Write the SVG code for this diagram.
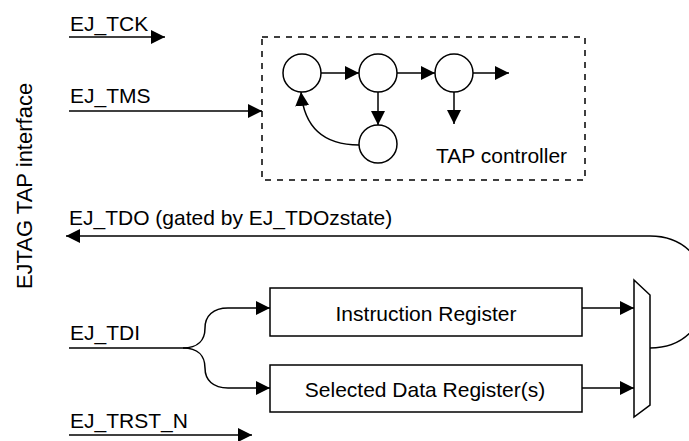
<svg xmlns="http://www.w3.org/2000/svg" width="689" height="441" viewBox="0 0 689 441">
<style>
.ln{fill:none;stroke:#000;stroke-width:1.5}
.bx{fill:#fff;stroke:#000;stroke-width:1.5}
.t{font-family:"Liberation Sans",Arial,sans-serif;font-size:21px;fill:#000}
.c{text-anchor:middle}
</style>
<defs>
<marker id="ah" markerUnits="userSpaceOnUse" markerWidth="14" markerHeight="14" refX="14" refY="7" orient="auto" viewBox="0 0 14 14">
<path d="M0,0 L14,7 L0,14 z" fill="#000"/>
</marker>
</defs>
<rect x="0" y="0" width="689" height="441" fill="#fff"/>
<text class="t c" transform="translate(32,186) rotate(-90)" style="font-size:22px">EJTAG TAP interface</text>
<g id="tap_controller">
<rect x="262" y="37" width="323" height="143" fill="none" stroke="#000" stroke-width="1.5" stroke-dasharray="6,6"/>
<text class="t" x="436" y="163">TAP controller</text>
</g>
<g id="state1"><circle class="bx" cx="302" cy="73" r="19"/></g>
<g id="state2"><circle class="bx" cx="378" cy="73" r="19"/></g>
<g id="state3"><circle class="bx" cx="454" cy="73" r="19"/></g>
<g id="state4"><circle class="bx" cx="378" cy="144" r="19"/></g>
<g id="instruction_register">
<rect class="bx" x="270" y="288" width="312" height="48"/>
<text class="t c" x="426" y="321">Instruction Register</text>
</g>
<g id="data_register">
<rect class="bx" x="270" y="365" width="312" height="47"/>
<text class="t c" x="425" y="397">Selected Data Register(s)</text>
</g>
<g id="mux">
<path class="bx" d="M634,280 L650,295 L650,405 L634,417 z"/>
</g>
<g id="labels">
<text class="t" x="70" y="31">EJ_TCK</text>
<text class="t" x="70" y="103">EJ_TMS</text>
<text class="t" x="69" y="225">EJ_TDO (gated by EJ_TDOzstate)</text>
<text class="t" x="70" y="340">EJ_TDI</text>
<text class="t" x="70" y="428">EJ_TRST_N</text>
</g>
<g id="connectors">
<path class="ln" d="M69,37 L165,37" marker-end="url(#ah)"/>
<path class="ln" d="M69,111 L262,111" marker-end="url(#ah)"/>
<path class="ln" d="M69,435 L252,435" marker-end="url(#ah)"/>
<path class="ln" d="M321,73 L359,73" marker-end="url(#ah)"/>
<path class="ln" d="M397,73 L435,73" marker-end="url(#ah)"/>
<path class="ln" d="M473,73 L509,73" marker-end="url(#ah)"/>
<path class="ln" d="M378,92 L378,125" marker-end="url(#ah)"/>
<path class="ln" d="M454,92 L454,124" marker-end="url(#ah)"/>
<path class="ln" d="M359,145 C322,145 304,126 301,92" marker-end="url(#ah)"/>
<path class="ln" d="M69,348 L183,348 C198,348 205,340 205,328 C205,316 213,308 228,308 L270,308" marker-end="url(#ah)"/>
<path class="ln" d="M183,348 C198,348 205,356 205,368 C205,380 213,388 228,388 L270,388" marker-end="url(#ah)"/>
<path class="ln" d="M582,308 L634,308" marker-end="url(#ah)"/>
<path class="ln" d="M582,388 L634,388" marker-end="url(#ah)"/>
<path class="ln" d="M650,348 C725,348 725,236 650,236 L66,236" marker-end="url(#ah)"/>
</g>
</svg>
